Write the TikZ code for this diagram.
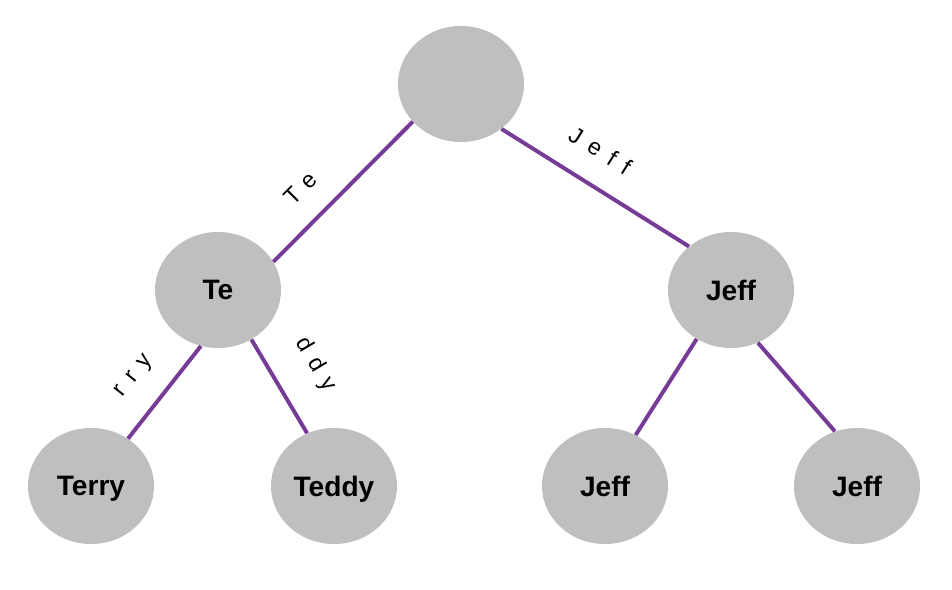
\documentclass[tikz,border=0pt]{standalone}
\usepackage{fontspec}
\setmainfont{Liberation Sans}
\usetikzlibrary{shapes.geometric}
\definecolor{nodegray}{HTML}{BFBFBF}
\definecolor{edgepurple}{HTML}{763B97}

\begin{document}
\begin{tikzpicture}[x=0.025cm, y=0.025cm,
  trie/.style={ellipse, fill=nodegray, minimum width=3.15cm, minimum height=2.9cm,
    inner sep=0pt, text depth=0pt, font=\fontsize{20}{24}\selectfont\bfseries},
  edge/.style={line width=2.8pt, edgepurple},
  lbl/.style={sloped, above, inner sep=#1, text=black,
    font=\fontsize{16.5}{19}\selectfont\addfontfeature{LetterSpace=45}},
]

% Canvas
\useasboundingbox (0,0) rectangle (952,590);

% === Nodes ===
\node[trie] (root) at (461,506) {};
\node[trie] (te) at (218,300) {Te};
\node[trie] (jeff) at (731,300) {Jeff};
\node[trie] (terry) at (91,104) {Terry};
\node[trie] (teddy) at (334,104) {Teddy};
\node[trie] (jeffl) at (605,104) {Jeff};
\node[trie] (jeffr) at (857,104) {Jeff};

% === Edges ===
\draw[edge] (root.218) -- node[lbl=16pt, pos=0.64] {Te} (te.27);
\draw[edge] (root.312) -- node[lbl=17pt, pos=0.43] {Jeff} (jeff.134);
\draw[edge] (te.253) -- node[lbl=16pt, pos=0.55] {rry} (terry.52);
\draw[edge] (te.304) -- node[lbl=21pt, pos=0.5] {ddy} (teddy.117);
\draw[edge] (jeff.235) -- (jeffl.59);
\draw[edge] (jeff.297) -- (jeffr.112);

\end{tikzpicture}
\end{document}
